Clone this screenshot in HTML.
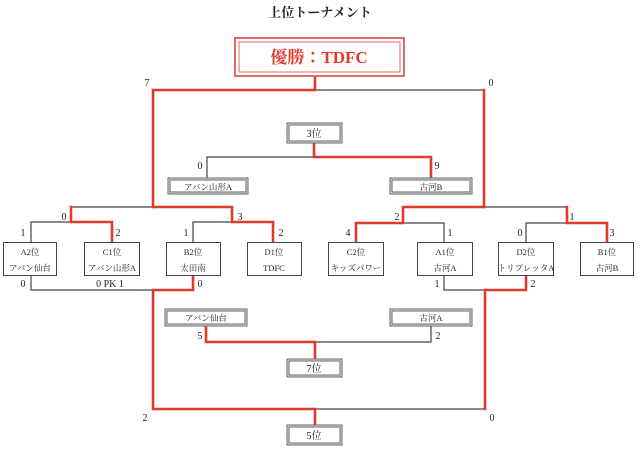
<!DOCTYPE html>
<html><head><meta charset="utf-8"><style>
html,body{margin:0;padding:0;background:#fff;}
svg{display:block;font-family:"Liberation Serif","Noto Serif CJK JP","Noto Serif CJK SC",serif;}
</style></head><body>
<svg width="640" height="449" viewBox="0 0 640 449" xmlns="http://www.w3.org/2000/svg">
<g fill="none" stroke-linecap="square">
<g stroke="#444" stroke-width="1.2">
<path d="M315 90H484"/>
<path d="M207 157H314M207 157V178"/>
<path d="M71 207H153"/>
<path d="M31 222H71M31 222V242"/>
<path d="M193 222H232M193 222V242"/>
<path d="M31 275V290H193"/>
<path d="M484 207H567"/>
<path d="M403 223H444V242"/>
<path d="M526 223H567M526 223V242"/>
<path d="M444 275V290H485"/>
<path d="M315 342H431V325"/>
<path d="M315 409H485"/>
</g>
<g stroke="#e0392d" stroke-width="2.6">
<path d="M315 76V90H153V207"/>
<path d="M484 90V207"/>
<path d="M314 142V157H431V178"/>
<path d="M71 207V222H112V242"/>
<path d="M153 207H232V222H273V242"/>
<path d="M193 275V290H153V409H315V425"/>
<path d="M484 207H403V223H356V242"/>
<path d="M567 207V223H607V242"/>
<path d="M526 275V290H485V409"/>
<path d="M206 325V342H315V359"/>
</g>
</g>
<text x="320" y="17" font-size="13" font-weight="bold" text-anchor="middle" fill="#222">上位トーナメント</text>
<rect x="235" y="38" width="169" height="38" fill="#fff" stroke="#e06a66" stroke-width="2"/>
<rect x="239" y="42" width="161" height="30" fill="none" stroke="#e06a66" stroke-width="1"/>
<text x="319" y="63" font-size="17" font-weight="bold" text-anchor="middle" fill="#e0392d">優勝：TDFC</text>
<g fill="#fff" stroke="#666" stroke-width="3">
<rect x="288" y="124" width="53" height="18"/>
<rect x="169" y="179" width="78" height="14"/>
<rect x="391" y="179" width="80" height="14"/>
<rect x="166" y="310" width="80" height="15"/>
<rect x="391" y="310" width="80" height="15"/>
<rect x="288" y="360" width="53" height="16"/>
<rect x="288" y="426" width="53" height="18"/>
</g>
<g fill="none" stroke="#fff" stroke-width="0.8">
<rect x="288" y="124" width="53" height="18"/>
<rect x="169" y="179" width="78" height="14"/>
<rect x="391" y="179" width="80" height="14"/>
<rect x="166" y="310" width="80" height="15"/>
<rect x="391" y="310" width="80" height="15"/>
<rect x="288" y="360" width="53" height="16"/>
<rect x="288" y="426" width="53" height="18"/>
</g>
<g font-size="10" text-anchor="middle" fill="#222">
<text x="314" y="137">3位</text>
<text x="208" y="190" font-size="8.5">アバン山形A</text>
<text x="431" y="190" font-size="8.5">古河B</text>
<text x="206" y="321" font-size="8.5">アバン仙台</text>
<text x="431" y="321" font-size="8.5">古河A</text>
<text x="314" y="372">7位</text>
<text x="314" y="439">5位</text>
</g>
<g fill="#fff" stroke="#444" stroke-width="1">
<rect x="3.5" y="242.5" width="53" height="33"/>
<rect x="84.5" y="242.5" width="55" height="33"/>
<rect x="166.5" y="242.5" width="54" height="33"/>
<rect x="247.5" y="242.5" width="54" height="33"/>
<rect x="328.5" y="242.5" width="55" height="33"/>
<rect x="417.5" y="242.5" width="55" height="33"/>
<rect x="498.5" y="242.5" width="55" height="33"/>
<rect x="580.5" y="242.5" width="53" height="33"/>
</g>
<g font-size="8.5" text-anchor="middle" fill="#222">
<text x="30" y="255">A2位</text><text x="30" y="271">アバン仙台</text>
<text x="112" y="255">C1位</text><text x="112" y="271">アバン山形A</text>
<text x="193" y="255">B2位</text><text x="193" y="271">太田南</text>
<text x="274" y="255">D1位</text><text x="274" y="271">TDFC</text>
<text x="356" y="255">C2位</text><text x="356" y="271">キッズパワー</text>
<text x="445" y="255">A1位</text><text x="445" y="271">古河A</text>
<text x="526" y="255">D2位</text><text x="526" y="271">トリプレッタA</text>
<text x="607" y="255">B1位</text><text x="607" y="271">古河B</text>
</g>
<g font-size="10" text-anchor="middle" fill="#222">
<text x="147" y="86">7</text><text x="491" y="86">0</text>
<text x="200" y="169">0</text><text x="437" y="169">9</text>
<text x="64" y="220">0</text><text x="240" y="220">3</text>
<text x="397" y="220">2</text><text x="572" y="220">1</text>
<text x="23" y="236">1</text><text x="118" y="236">2</text>
<text x="186" y="236">1</text><text x="281" y="236">2</text>
<text x="348" y="236">4</text><text x="450" y="236">1</text>
<text x="520" y="236">0</text><text x="612" y="236">3</text>
<text x="23" y="287">0</text><text x="110" y="287">0 PK 1</text><text x="200" y="287">0</text>
<text x="437" y="287">1</text><text x="533" y="287">2</text>
<text x="200" y="339">5</text><text x="438" y="339">2</text>
<text x="145" y="421">2</text><text x="492" y="421">0</text>
</g>
</svg>
</body></html>
